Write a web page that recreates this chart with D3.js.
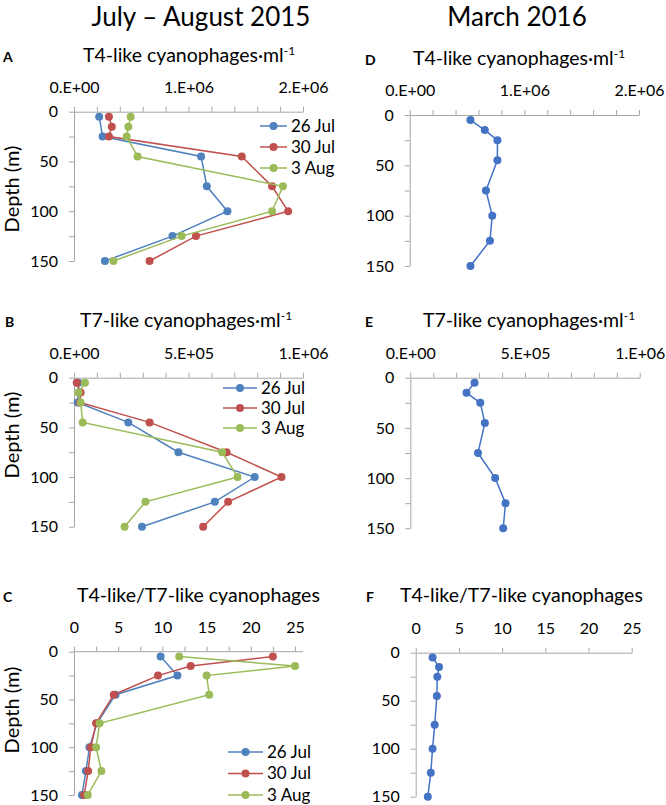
<!DOCTYPE html>
<html>
<head>
<meta charset="utf-8">
<script src="https://cdn.jsdelivr.net/npm/d3@7"></script>
<style>
  body { margin: 0; background: #fff; }
  svg text { font-family: Lato, "Open Sans", sans-serif; fill: #000; }
  .axis path, .axis line { stroke: #a6a6a6; stroke-width: 1; }
</style>
</head>
<body>
<svg id="chart" width="666" height="805"></svg>
<script>
/* global d3 */

// sampling depths (m); 26 Jul has no 15 m sample
const depths = [5, 15, 25, 45, 75, 100, 125, 150];
const depthsJul26 = [5, 25, 45, 75, 100, 125, 150];
const dates = ['26 Jul', '30 Jul', '3 Aug'];

// July - August 2015, T4-like cyanophages per ml
const t4Jul26 = [2.2e5, 2.5e5, 1.11e6, 1.16e6, 1.34e6, 8.6e5, 2.7e5];
const t4Jul30 = [3.05e5, 3.3e5, 3.05e5, 1.465e6, 1.73e6, 1.87e6, 1.065e6, 6.6e5];
const t4Aug3 = [4.95e5, 4.75e5, 4.6e5, 5.55e5, 1.825e6, 1.73e6, 9.4e5, 3.45e5];

// July - August 2015, T7-like cyanophages per ml
const t7Jul26 = [1.9e4, 1.6e4, 2.37e5, 4.56e5, 7.89e5, 6.15e5, 2.97e5];
const t7Jul30 = [1.2e4, 2.9e4, 2.6e4, 3.3e5, 6.66e5, 9.06e5, 6.73e5, 5.64e5];
const t7Aug3 = [4.8e4, 2.0e4, 2.9e4, 3.8e4, 6.47e5, 7.14e5, 3.12e5, 2.21e5];

// July - August 2015, T4-like / T7-like ratio
const ratioJul26 = [9.8, 11.7, 4.7, 2.6, 1.75, 1.35, 0.9];
const ratioJul30 = [22.5, 13.2, 9.5, 4.5, 2.5, 1.9, 1.6, 1.15];
const ratioAug3 = [11.9, 25.0, 15.0, 15.3, 2.9, 2.5, 3.1, 1.55];

// March 2016
const t4Mar = [5.3e5, 6.55e5, 7.65e5, 7.65e5, 6.65e5, 7.2e5, 7.0e5, 5.3e5];
const t7Mar = [2.8e5, 2.45e5, 3.05e5, 3.25e5, 2.95e5, 3.7e5, 4.15e5, 4.05e5];
const ratioMar = [1.95, 2.7, 2.5, 2.45, 2.2, 1.95, 1.75, 1.4];

// axis ticks and labels
const depthTicks = [0, 25, 50, 75, 100, 125, 150];
const depthLabels = [0, 50, 100, 150];
const t4Ticks = [0, 2e5, 4e5, 6e5, 8e5, 1e6, 1.2e6, 1.4e6, 1.6e6, 1.8e6, 2e6];
const t4LabelValues = [0, 1e6, 2e6];
const t4Labels = ['0.E+00', '1.E+06', '2.E+06'];
const t7Ticks = [0, 1e5, 2e5, 3e5, 4e5, 5e5, 6e5, 7e5, 8e5, 9e5, 1e6];
const t7LabelValues = [0, 5e5, 1e6];
const t7Labels = ['0.E+00', '5.E+05', '1.E+06'];
const ratioTicksMinor = [0, 2.5, 5, 7.5, 10, 12.5, 15, 17.5, 20, 22.5, 25];
const ratioTicksMajor = [0, 5, 10, 15, 20, 25];
const ratioLabelValues = [0, 5, 10, 15, 20, 25];
const ratioLabels = ['0', '5', '10', '15', '20', '25'];

const colors = ['#4F81BD', '#C0504D', '#9BBB59'];
const blueMar = '#4472C4';

const svg = d3.select('#chart');

svg.append('text').attr('x', 201).attr('y', 26).attr('text-anchor', 'middle')
  .attr('font-size', 26).text('July \u2013 August 2015');
svg.append('text').attr('x', 517).attr('y', 26).attr('text-anchor', 'middle')
  .attr('font-size', 26).text('March 2016');

const drawPanel = o => {
  const x = d3.scaleLinear().domain([0, o.xmax]).range([o.x0, o.x1]);
  const y = d3.scaleLinear().domain([0, 150]).range([o.y0, o.y1]);

  // panel letter + title
  svg.append('text').attr('x', o.letterX).attr('y', o.titleY)
    .attr('font-size', 14).attr('font-weight', 'bold').text(o.letter);
  const t = svg.append('text').attr('x', o.titleX).attr('y', o.titleY).attr('font-size', 19.5);
  t.append('tspan').text(o.title);
  if (o.sup) {
    t.append('tspan').attr('dy', -7).attr('font-size', 12).text(o.sup);
  }

  const xAxis = svg.append('g')
    .attr('class', 'axis')
    .attr('transform', `translate(0,${o.y0})`)
    .call(d3.axisTop(x)
      .tickValues(o.ticks)
      .tickSize(5)
      .tickPadding(14)
      .tickSizeOuter(0)
      .tickFormat(d => {
        const i = o.labelValues.indexOf(d);
        return i < 0 ? '' : o.labels[i];
      }));
  if (o.lineEnd) {
    xAxis.select('.domain').attr('d', `M${o.x0},0H${o.lineEnd}`);
  }
  xAxis.selectAll('text').attr('font-size', 16).attr('font-family', null);

  const yAxis = svg.append('g')
    .attr('class', 'axis')
    .attr('transform', `translate(${o.x0},0)`)
    .call(d3.axisLeft(y)
      .tickValues(depthTicks)
      .tickSize(5)
      .tickPadding(11)
      .tickSizeOuter(0)
      .tickFormat(d => depthLabels.includes(d) ? d : ''));
  yAxis.selectAll('text').attr('font-size', 16).attr('font-family', null);

  if (o.depthLabelY) {
    svg.append('text')
      .attr('transform', `translate(12,${o.depthLabelY}) rotate(-90)`)
      .attr('text-anchor', 'middle')
      .attr('dy', '0.35em')
      .attr('font-size', 20)
      .text('Depth (m)');
  }

  const line = d3.line().x(d => x(d.v)).y(d => y(d.z));

  o.series.forEach(s => {
    const pts = s.values.map((v, i) => ({ v, z: s.depths[i] }));
    const g = svg.append('g');
    g.append('path')
      .datum(pts)
      .attr('fill', 'none')
      .attr('stroke', s.color)
      .attr('stroke-width', 1.5)
      .attr('d', line);
    g.selectAll('circle')
      .data(pts)
      .enter()
      .append('circle')
      .attr('cx', d => x(d.v))
      .attr('cy', d => y(d.z))
      .attr('r', 4)
      .attr('fill', s.color);
  });

  if (o.legend) {
    const lg = svg.append('g').attr('transform', `translate(${o.legend.x},${o.legend.y})`);
    o.series.forEach((s, i) => {
      const row = lg.append('g').attr('transform', `translate(0,${i * o.legend.step})`);
      row.append('line').attr('x1', 0).attr('x2', o.legend.len)
        .attr('stroke', s.color).attr('stroke-width', 1.5);
      row.append('circle').attr('cx', o.legend.len / 2).attr('r', 4).attr('fill', s.color);
      row.append('text').attr('x', o.legend.len + 4).attr('dy', '0.35em')
        .attr('font-size', 17).text(s.name);
    });
  }
};

const series2015 = (a, b, c) => [
  { name: dates[0], color: colors[0], values: a, depths: depthsJul26 },
  { name: dates[1], color: colors[1], values: b, depths: depths },
  { name: dates[2], color: colors[2], values: c, depths: depths },
];

drawPanel({
  letter: 'A', letterX: 3, title: 'T4-like cyanophages\u00b7ml', sup: '-1', titleX: 83, titleY: 62,
  x0: 74, x1: 303, y0: 111.7, y1: 261, xmax: 2e6,
  ticks: t4Ticks, labelValues: t4LabelValues, labels: t4Labels,
  depthLabelY: 189,
  series: series2015(t4Jul26, t4Jul30, t4Aug3),
  legend: { x: 260, y: 126, step: 21, len: 27 },
});

drawPanel({
  letter: 'B', letterX: 5, title: 'T7-like cyanophages\u00b7ml', sup: '-1', titleX: 80, titleY: 327,
  x0: 74, x1: 303, y0: 377.7, y1: 526.7, xmax: 1e6,
  ticks: t7Ticks, labelValues: t7LabelValues, labels: t7Labels,
  depthLabelY: 435,
  series: series2015(t7Jul26, t7Jul30, t7Aug3),
  legend: { x: 223, y: 388, step: 20, len: 34 },
});

drawPanel({
  letter: 'C', letterX: 3, title: 'T4-like/T7-like cyanophages', titleX: 77, titleY: 602,
  x0: 74, x1: 295, y0: 651.7, y1: 795, xmax: 25, lineEnd: 303,
  ticks: ratioTicksMinor, labelValues: ratioLabelValues, labels: ratioLabels,
  depthLabelY: 710,
  series: series2015(ratioJul26, ratioJul30, ratioAug3),
  legend: { x: 228, y: 752, step: 21.5, len: 35 },
});

drawPanel({
  letter: 'D', letterX: 365, title: 'T4-like cyanophages\u00b7ml', sup: '-1', titleX: 413, titleY: 65,
  x0: 409.7, x1: 639, y0: 115, y1: 266, xmax: 2e6,
  ticks: t4Ticks, labelValues: t4LabelValues, labels: t4Labels,
  series: [{ name: 'Mar', color: blueMar, values: t4Mar, depths: depths }],
});

drawPanel({
  letter: 'E', letterX: 365, title: 'T7-like cyanophages\u00b7ml', sup: '-1', titleX: 423, titleY: 327,
  x0: 410.3, x1: 639.7, y0: 377.7, y1: 528.3, xmax: 1e6,
  ticks: t7Ticks, labelValues: t7LabelValues, labels: t7Labels,
  series: [{ name: 'Mar', color: blueMar, values: t7Mar, depths: depths }],
});

drawPanel({
  letter: 'F', letterX: 366, title: 'T4-like/T7-like cyanophages', titleX: 400, titleY: 602,
  x0: 415.7, x1: 631.7, y0: 652.7, y1: 796.7, xmax: 25,
  ticks: ratioTicksMajor, labelValues: ratioLabelValues, labels: ratioLabels,
  series: [{ name: 'Mar', color: blueMar, values: ratioMar, depths: depths }],
});
</script>
</body>
</html>
